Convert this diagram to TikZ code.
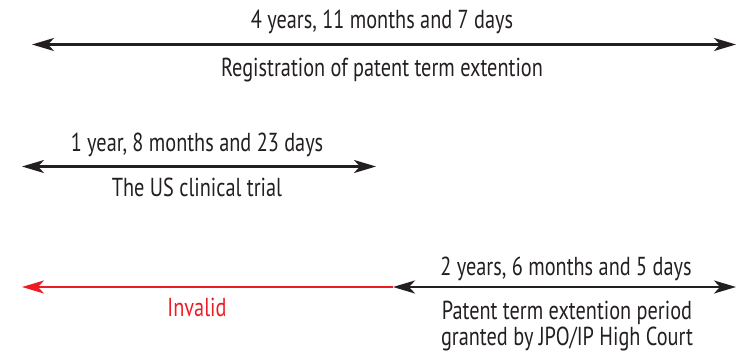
\documentclass[tikz,border=0pt]{standalone}
\usepackage{fontspec}
\setmainfont{PT Sans}[FakeStretch=0.78]
\usetikzlibrary{arrows.meta}
\definecolor{myred}{HTML}{ED1C24}
\definecolor{myblack}{HTML}{231F20}
\tikzset{
  lbl/.style={font=\fontsize{26}{26}\selectfont, inner sep=0pt, text=myblack, align=center, anchor=base},
  redlbl/.style={lbl, text=myred},
  span/.style={line width=2.6pt, draw=myblack},
}
\begin{document}
\begin{tikzpicture}[x=1pt,y=-1pt]
\useasboundingbox (0,0) rectangle (736,353);
% top
\coordinate (a1) at (32,44.5);
\coordinate (a2) at (736,44.5);
\draw[span,{Stealth[length=22pt,width=13pt,inset=6pt]}-{Stealth[length=22pt,width=13pt,inset=6pt]}] (a1) -- (a2);
\node[lbl] (t1) at (382,28.5) {4 years, 11 months and 7 days};
\node[lbl] (t2) at (382,76.5) {Registration of patent term extention};
% middle
\coordinate (b1) at (22,166.5);
\coordinate (b2) at (376,166.5);
\draw[span,{Stealth[length=22pt,width=13pt,inset=6pt]}-{Stealth[length=22pt,width=13pt,inset=6pt]}] (b1) -- (b2);
\node[lbl] (t3) at (197,151.5) {1 year, 8 months and 23 days};
\node[lbl] (t4) at (197,196.5) {The US clinical trial};
% bottom
\coordinate (c1) at (22,287);
\coordinate (c2) at (393,287);
\coordinate (c3) at (736,287);
\draw[line width=2.6pt, draw=myred,{Stealth[length=22pt,width=13pt,inset=6pt]}-] (c1) -- (c2);
\draw[span,{Stealth[length=22pt,width=13pt,inset=6pt]}-{Stealth[length=22pt,width=13pt,inset=6pt]}] (c2) -- (c3);
\node[redlbl] (t5) at (197,316.5) {Invalid};
\node[lbl] (t6) at (566,275) {2 years, 6 months and 5 days};
\node[lbl] (t7) at (567,345) {Patent term extention period\\granted by JPO/IP High Court};
\end{tikzpicture}
\end{document}
